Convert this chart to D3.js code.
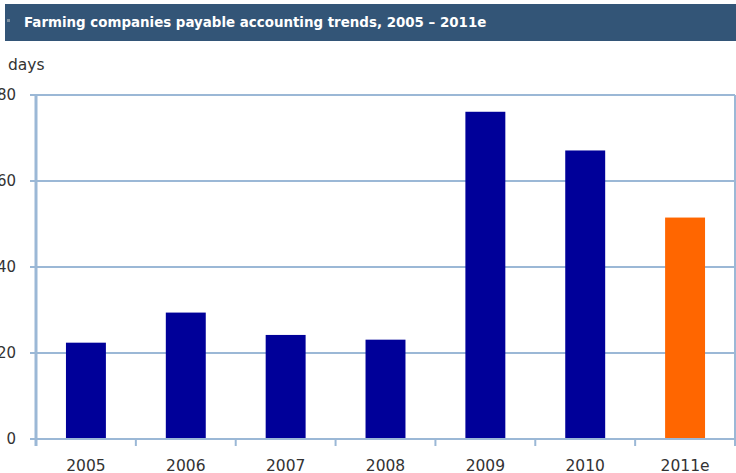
<!DOCTYPE html>
<html><head><meta charset="utf-8">
<script src="https://cdn.jsdelivr.net/npm/d3@7"></script>
<style>body{margin:0;background:#fff;overflow:hidden}svg{display:block}</style>
</head><body>
<script>
const categories = ["2005","2006","2007","2008","2009","2010","2011e"];
const values = [22.4, 29.4, 24.2, 23.1, 76.1, 67.1, 51.5];
const estimated = [false,false,false,false,false,false,true];
const yTicks = [0,20,40,60,80];
const title = "Farming companies payable accounting trends, 2005 \u2013 2011e";
const yLabel = "days";

const W=736,H=473;
const svg=d3.select("body").append("svg").attr("width",W).attr("height",H);
const m={left:36,right:1,top:95,bottom:34};
const x=d3.scaleBand().domain(categories).range([m.left,W-m.right]).paddingInner(0.6).paddingOuter(0.3);
const xb=d3.scaleBand().domain(categories).range([m.left,W-m.right]);
const y=d3.scaleLinear().domain([0,80]).range([H-m.bottom,m.top]);
const gridC="#9bb8d6", font="DejaVu Sans, Verdana, sans-serif";

// header
svg.append("rect").attr("x",5).attr("y",4).attr("width",W-5).attr("height",37).attr("fill","#335577");
svg.append("rect").attr("x",7).attr("y",19).attr("width",3).attr("height",3).attr("fill","#7d8f9f");
svg.append("text").attr("x",24).attr("y",27).attr("fill","#fff").attr("font-family",font)
  .attr("font-weight","bold").attr("font-size",13.4).text(title);

svg.append("text").attr("x",8).attr("y",70).attr("fill","#333").attr("font-family",font).attr("font-size",15.5).text(yLabel);

// grid
svg.append("g").selectAll("line").data(yTicks).join("line")
  .attr("x1",m.left-6).attr("x2",W-m.right).attr("y1",d=>y(d)).attr("y2",d=>y(d))
  .attr("stroke",gridC).attr("stroke-width",2);
// right border
svg.append("line").attr("x1",W-m.right).attr("x2",W-m.right).attr("y1",y(80)).attr("y2",y(0)).attr("stroke",gridC).attr("stroke-width",2);

// bars
svg.append("g").selectAll("rect").data(categories).join("rect")
  .attr("x",d=>x(d)).attr("width",x.bandwidth())
  .attr("y",(d,i)=>y(values[i])).attr("height",(d,i)=>y(0)-y(values[i]))
  .attr("fill",(d,i)=>estimated[i]?"#ff6600":"#000099");

// y axis
const ya=svg.append("g").attr("transform",`translate(${m.left},0)`).call(d3.axisLeft(y).tickValues(yTicks).tickSize(6).tickPadding(14));
ya.select(".domain").attr("stroke",gridC).attr("stroke-width",3).attr("d",`M0,${y(80)}V${y(0)+7}`);
ya.selectAll(".tick line").remove();
ya.selectAll("text").attr("font-family",font).attr("font-size",15).attr("fill","#333");

// x axis
svg.append("line").attr("x1",m.left-6).attr("x2",W-m.right).attr("y1",y(0)).attr("y2",y(0)).attr("stroke",gridC).attr("stroke-width",2);
svg.append("g").selectAll("line").data(categories.slice(1)).join("line")
  .attr("x1",d=>xb(d)).attr("x2",d=>xb(d)).attr("y1",y(0)).attr("y2",y(0)+7).attr("stroke",gridC).attr("stroke-width",2);
svg.append("line").attr("x1",W-m.right).attr("x2",W-m.right).attr("y1",y(0)).attr("y2",y(0)+7).attr("stroke",gridC).attr("stroke-width",2);
const xa=svg.append("g").attr("transform",`translate(0,${y(0)})`).call(d3.axisBottom(xb).tickSize(0).tickPadding(21));
xa.select(".domain").remove();
xa.selectAll("text").attr("font-family",font).attr("font-size",15.5).attr("fill","#333");
</script>
</body></html>
